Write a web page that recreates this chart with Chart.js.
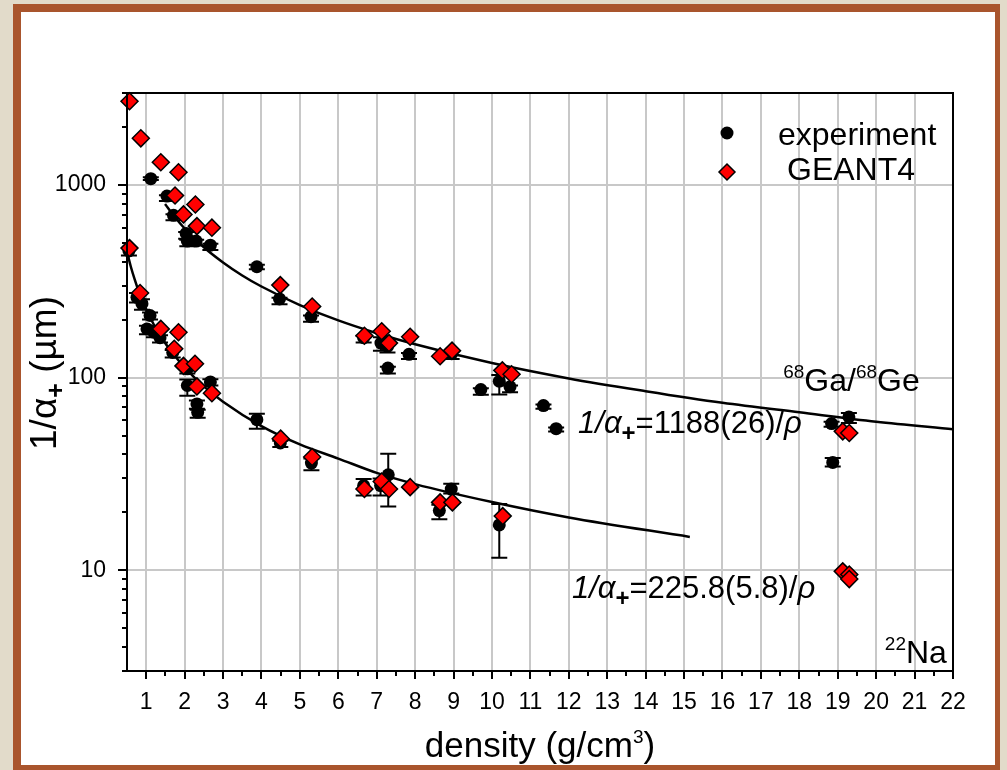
<!DOCTYPE html>
<html>
<head>
<meta charset="utf-8">
<script src="https://cdn.jsdelivr.net/npm/chart.js@4.4.1/dist/chart.umd.min.js"></script>
<style>
  html, body { margin: 0; padding: 0; }
  body { width: 1007px; height: 770px; background: #e2dbca; position: relative; overflow: hidden; }
  #frame {
    position: absolute; left: 13px; top: 4px; width: 987px; height: 766px;
    box-sizing: border-box; background: #fff;
    border-style: solid; border-color: #a9552d;
    border-width: 8px 5px 5px 8px;
  }
  #chart { position: absolute; left: 0; top: 0; }
</style>
</head>
<body>
<div id="frame"></div>
<canvas id="chart" width="1007" height="770"></canvas>
<script>
// experiment: density (g/cm3), 1/alpha+ (um), error bar ends
const expX  = [1.12, 1.54, 1.71, 2.04, 2.07, 2.30, 2.67, 3.88, 4.47, 5.29, 6.66, 7.11, 7.28, 7.29, 7.84, 8.95, 9.71, 10.19, 10.47, 11.34, 11.67, 18.84, 19.29, 18.87,
               0.55, 0.76, 0.89, 1.10, 1.02, 1.20, 1.36, 1.69, 2.07, 2.07, 2.67, 2.32, 2.34, 3.88, 4.49, 5.30, 6.66, 7.10, 7.30, 8.94, 8.63, 10.19];
const expY  = [1077, 875, 695, 560, 511, 511, 487, 376, 256, 207, 161, 151, 145, 112, 132, 133, 86.7, 95.7, 89.5, 71.6, 54.3, 57.7, 62.5, 36.3,
               455, 261, 242, 210, 179, 172, 161, 135, 111, 91, 95, 73, 66, 60.5, 45.8, 36, 27.5, 27.5, 31.3, 26.4, 20.4, 17.2];
const expLo = [1060, 825, 655, 525, 480, 485, 460, 365, 240, 195, 152, 138, 135, 105, 125, 125, 81.5, 81.7, 84, 69, 52.5, 55.5, 58.2, 34.6,
               430, 245, 225, 200, 168, 162, 152, 127, 105, 80.6, 91, 69, 61.8, 54.3, 43.6, 33, 24.4, 24.4, 21.4, 25, 18.4, 11.6];
const expHi = [1095, 885, 705, 570, 520, 520, 495, 385, 260, 210, 165, 162, 150, 114, 134, 137, 88, 103, 91, 72.5, 55, 59, 65.5, 38.2,
               470, 275, 255, 218, 186, 178, 166, 139, 115, 97.6, 98, 76, 68, 65, 47, 38, 29.8, 29.9, 40.2, 28.1, 21.9, 22.1];

// GEANT4 simulation
const g4X = [0.565, 0.86, 1.38, 1.84, 1.75, 2.28, 1.97, 2.32, 2.71, 4.49, 5.32, 6.68, 7.13, 7.32, 7.87, 8.65, 8.96, 10.27, 10.51, 19.13, 19.30,
             0.565, 0.84, 1.38, 1.84, 1.73, 1.97, 2.27, 2.32, 2.71, 4.50, 5.32, 6.68, 7.13, 7.32, 7.87, 8.65, 8.97, 10.28, 19.13, 19.30, 19.30];
const g4Y = [2720, 1745, 1312, 1164, 881, 792, 703, 611, 600, 302, 234, 165, 174, 151, 163, 129, 138, 109, 104, 52.6, 51.6,
             470, 275, 179, 172, 141, 115, 118, 90, 83, 48.2, 38.7, 26.4, 28.9, 26.4, 27, 22.5, 22.5, 19.1, 9.87, 9.5, 9.0];

// fit curves
const fitGaX = [1.49, 1.75, 2, 2.5, 3, 3.5, 4, 5, 6, 7, 8, 10, 12, 14, 16, 18, 20, 22];
const fitGaY = [797, 679, 594, 475, 396, 339, 297, 238, 198, 170, 149, 119, 99, 85, 74, 66, 59, 54];
const fitNaX = [0.53, 0.6, 0.7, 0.8, 0.9, 1, 1.2, 1.4, 1.7, 2, 2.5, 3, 4, 5, 6, 7, 8, 10, 12, 15.15];
const fitNaY = [426, 376, 323, 282, 251, 226, 188, 161, 133, 113, 90, 75, 56, 45, 38, 32, 28, 22.6, 18.8, 14.9];

const xTickValues = [1, 2, 3, 4, 5, 6, 7, 8, 9, 10, 11, 12, 13, 14, 15, 16, 17, 18, 19, 20, 21, 22];
const yTickValues = [10, 100, 1000];

const FONT = "'Liberation Sans', Arial, sans-serif";

function toPoints(xs, ys) {
    return xs.map((v, i) => ({ x: v, y: ys[i] }));
}

/**
 * Draws a row of text pieces (normal, sub, super) one after another
 */
function drawRuns(ctx, x, y, runs, align) {
    let total = 0;
    runs.forEach(r => {
        ctx.font = r.font;
        r.w = ctx.measureText(r.t).width;
        total += r.w;
    });
    let cx = align == 'right' ? x - total : align == 'center' ? x - total / 2 : x;
    runs.forEach(r => {
        ctx.font = r.font;
        ctx.fillText(r.t, cx, y + (r.dy || 0));
        cx += r.w;
    });
}

const errorBars = {
    id: 'errorBars',
    beforeDatasetDraw(chart, args) {
        if (args.index != 0) return;
        const { ctx, scales: { x, y } } = chart;
        ctx.save();
        ctx.strokeStyle = '#000';
        ctx.lineWidth = 2;
        for (let i = 0; i < expX.length; i++) {
            let px = x.getPixelForValue(expX[i]);
            let pLo = y.getPixelForValue(expLo[i]);
            let pHi = y.getPixelForValue(expHi[i]);
            ctx.beginPath();
            ctx.moveTo(px, pLo); ctx.lineTo(px, pHi);
            ctx.moveTo(px - 8, pLo); ctx.lineTo(px + 8, pLo);
            ctx.moveTo(px - 8, pHi); ctx.lineTo(px + 8, pHi);
            ctx.stroke();
        }
        ctx.restore();
    }
};

const decorations = {
    id: 'decorations',
    afterDraw(chart) {
        const { ctx, chartArea: a, scales: { x, y } } = chart;
        ctx.save();

        // minor ticks
        ctx.strokeStyle = '#000';
        ctx.lineWidth = 2;
        ctx.beginPath();
        for (let v = 1.5; v < 22; v += 1) {
            let px = Math.round(x.getPixelForValue(v));
            ctx.moveTo(px, a.bottom); ctx.lineTo(px, a.bottom + 5);
        }
        [1, 10, 100, 1000].forEach(d => {
            for (let m = 2; m <= 9; m++) {
                let v = d * m;
                if (v < 3 || v > 3000) continue;
                let py = Math.round(y.getPixelForValue(v));
                ctx.moveTo(a.left, py); ctx.lineTo(a.left - 5, py);
            }
        });
        ctx.stroke();

        // plot frame
        ctx.strokeRect(a.left, a.top, a.right - a.left, a.bottom - a.top);

        ctx.fillStyle = '#000';
        ctx.textBaseline = 'alphabetic';
        ctx.textAlign = 'left';

        // axis titles
        drawRuns(ctx, 540, 757, [
            { t: 'density (g/cm', font: `35px ${FONT}` },
            { t: '3', font: `19px ${FONT}`, dy: -14 },
            { t: ')', font: `35px ${FONT}` }
        ], 'center');

        ctx.save();
        ctx.translate(56, 373);
        ctx.rotate(-Math.PI / 2);
        drawRuns(ctx, 0, 0, [
            { t: '1/\u03b1', font: `37px ${FONT}` },
            { t: '+', font: `bold 25px ${FONT}`, dy: 8 },
            { t: ' (\u00b5m)', font: `37px ${FONT}` }
        ], 'center');
        ctx.restore();

        // curve labels
        drawRuns(ctx, x.getPixelForValue(17.58), y.getPixelForValue(85), [
            { t: '68', font: `19px ${FONT}`, dy: -13 },
            { t: 'Ga/', font: `32px ${FONT}` },
            { t: '68', font: `19px ${FONT}`, dy: -13 },
            { t: 'Ge', font: `32px ${FONT}` }
        ], 'left');
        drawRuns(ctx, x.getPixelForValue(12.24), y.getPixelForValue(51.5), [
            { t: '1/\u03b1', font: `italic 31px ${FONT}` },
            { t: '+', font: `bold 24px ${FONT}`, dy: 8 },
            { t: '=1188(26)/', font: `31px ${FONT}` },
            { t: '\u03c1', font: `italic 31px ${FONT}` }
        ], 'left');
        drawRuns(ctx, x.getPixelForValue(12.08), y.getPixelForValue(7.2), [
            { t: '1/\u03b1', font: `italic 31px ${FONT}` },
            { t: '+', font: `bold 24px ${FONT}`, dy: 8 },
            { t: '=225.8(5.8)/', font: `31px ${FONT}` },
            { t: '\u03c1', font: `italic 31px ${FONT}` }
        ], 'left');
        drawRuns(ctx, x.getPixelForValue(21.84), y.getPixelForValue(3.3), [
            { t: '22', font: `19px ${FONT}`, dy: -13 },
            { t: 'Na', font: `32px ${FONT}` }
        ], 'right');

        // legend
        let lx = a.left + 600;
        ctx.beginPath();
        ctx.arc(lx, a.top + 40, 6.5, 0, Math.PI * 2);
        ctx.fill();
        ctx.beginPath();
        ctx.moveTo(lx, a.top + 71); ctx.lineTo(lx + 8, a.top + 79);
        ctx.lineTo(lx, a.top + 87); ctx.lineTo(lx - 8, a.top + 79);
        ctx.closePath();
        ctx.fillStyle = '#ff0000';
        ctx.fill();
        ctx.lineWidth = 1.5;
        ctx.stroke();
        ctx.fillStyle = '#000';
        ctx.font = `32px ${FONT}`;
        ctx.fillText('experiment', a.left + 651, a.top + 52);
        ctx.fillText('GEANT4', a.left + 660, a.top + 87);

        ctx.restore();
    }
};

const config = {
    type: 'scatter',
    data: {
        datasets: [
            {
                label: 'experiment',
                data: toPoints(expX, expY),
                pointStyle: 'circle',
                pointRadius: 6.5,
                backgroundColor: '#000',
                borderColor: '#000',
                borderWidth: 0,
                clip: false,
                order: 1
            },
            {
                label: 'GEANT4',
                data: toPoints(g4X, g4Y),
                pointStyle: 'rectRot',
                pointRadius: 8.5,
                backgroundColor: '#ff0000',
                borderColor: '#000',
                borderWidth: 1.5,
                clip: false,
                order: 0
            },
            {
                label: 'fit 68Ga/68Ge',
                data: toPoints(fitGaX, fitGaY),
                showLine: true,
                pointRadius: 0,
                borderColor: '#000',
                borderWidth: 2.5,
                cubicInterpolationMode: 'monotone',
                order: 2
            },
            {
                label: 'fit 22Na',
                data: toPoints(fitNaX, fitNaY),
                showLine: true,
                pointRadius: 0,
                borderColor: '#000',
                borderWidth: 2.5,
                cubicInterpolationMode: 'monotone',
                order: 2
            }
        ]
    },
    options: {
        responsive: false,
        animation: false,
        events: [],
        layout: { padding: { left: 0, top: 93, right: 54, bottom: 59 } },
        plugins: {
            legend: { display: false },
            tooltip: { enabled: false }
        },
        scales: {
            x: {
                type: 'linear',
                min: 0.5,
                max: 22,
                afterBuildTicks: (scale) => { scale.ticks = xTickValues.map(v => ({ value: v })); },
                afterFit: (scale) => { scale.height = 40; },
                ticks: {
                    color: '#000',
                    font: { family: FONT, size: 23 },
                    padding: 10,
                    maxRotation: 0,
                    autoSkip: false,
                    callback: (value) => String(value)
                },
                grid: {
                    color: '#c8c8c8',
                    lineWidth: 2,
                    tickColor: '#000',
                    tickWidth: 2,
                    tickLength: 8
                },
                border: { color: '#000', width: 2 }
            },
            y: {
                type: 'logarithmic',
                min: 3,
                max: 3000,
                afterBuildTicks: (scale) => { scale.ticks = yTickValues.map(v => ({ value: v })); },
                afterFit: (scale) => { scale.width = 127; },
                ticks: {
                    color: '#000',
                    font: { family: FONT, size: 23 },
                    padding: 12,
                    autoSkip: false,
                    callback: (value) => String(value)
                },
                grid: {
                    color: '#c8c8c8',
                    lineWidth: 2,
                    tickColor: '#000',
                    tickWidth: 2,
                    tickLength: 9
                },
                border: { color: '#000', width: 2 }
            }
        }
    },
    plugins: [errorBars, decorations]
};

new Chart(document.getElementById('chart'), config);
</script>
</body>
</html>
